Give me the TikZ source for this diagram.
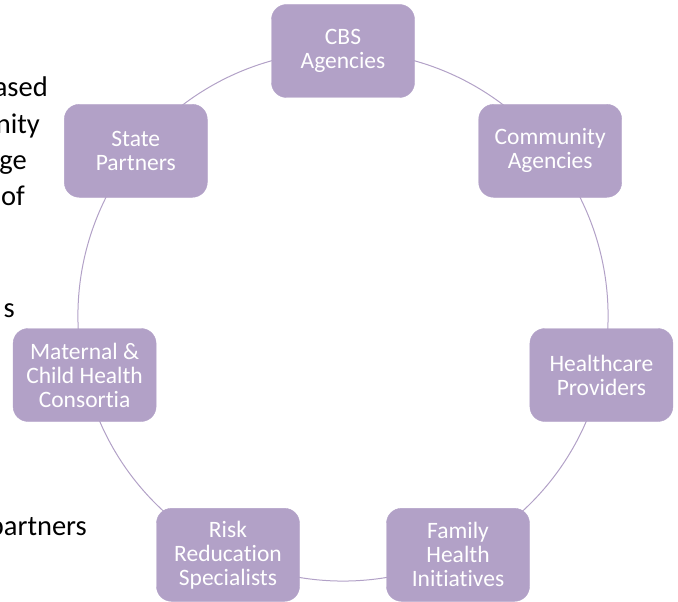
\documentclass[tikz,border=0pt]{standalone}
\usepackage{fontspec}
\setmainfont{Carlito}[Ligatures=NoCommon]
\usetikzlibrary{backgrounds}
\definecolor{lav}{HTML}{B2A1C7}
\begin{document}
\begin{tikzpicture}[x=1pt,y=-1pt,
  box/.style={fill=lav, draw=lav, rounded corners=15pt, minimum width=143pt, minimum height=93pt, inner sep=0pt, text=white, align=center, font=\fontsize{23.5}{24}\selectfont},
  conn/.style={draw=lav, line width=1pt},
  frag/.style={anchor=base east, inner sep=0pt, font=\fontsize{28.5}{36}\selectfont, text=black}]
\useasboundingbox (0,0) rectangle (678,602);
\clip (0,0) rectangle (678,602);
\node[box] (n1) at (343,51) {CBS\\Agencies};
\node[box] (n2) at (550.2,150.8) {Community\\Agencies};
\node[box] (n3) at (601.4,375) {Healthcare\\Providers};
\node[box] (n4) at (458,554.8) {Family\\Health\\Initiatives};
\node[box] (n5) at (228,554.8) {Risk\\Reducation\\Specialists};
\node[box] (n6) at (84.6,375) {Maternal \&\\Child Health\\Consortia};
\node[box] (n7) at (135.8,150.8) {State\\Partners};
\begin{pgfonlayer}{background}
\foreach \a/\b in {n1/n2,n2/n3,n3/n4,n4/n5,n5/n6,n6/n7,n7/n1}
  \draw[conn] (\a.center) to[bend left=25.71, looseness=0.9] (\b.center);
\end{pgfonlayer}
\node[frag] (f1) at (48,97) {ased};
\node[frag] (f2) at (40,133) {nity};
\node[frag] (f3) at (27,169) {ge};
\node[frag] (f4) at (25,205) {of};
\node[frag] (f5) at (15,317) {s};
\node[frag] (f6) at (87,535) {partners};
\end{tikzpicture}
\end{document}
